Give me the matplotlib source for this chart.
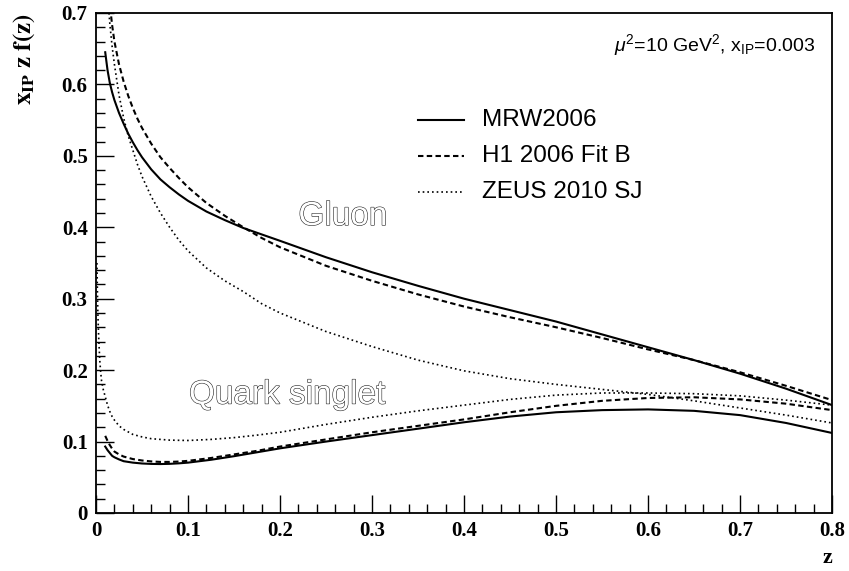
import numpy as np
import matplotlib
matplotlib.use("Agg")
from matplotlib import pyplot as plt
import matplotlib.patheffects as pe
from matplotlib.ticker import MultipleLocator

plt.rcParams['mathtext.fontset'] = 'custom'
plt.rcParams['mathtext.rm'] = 'Liberation Sans'
plt.rcParams['mathtext.it'] = 'Liberation Sans:italic'
plt.rcParams['mathtext.bf'] = 'Liberation Sans:bold'

# gluon curves
z_gluon = [0.01, 0.0125, 0.015, 0.0175, 0.02, 0.025, 0.03, 0.035, 0.04, 0.045, 0.05, 0.06, 0.07, 0.08, 0.09,
           0.1, 0.12, 0.14, 0.16, 0.18, 0.2, 0.25, 0.3, 0.35, 0.4, 0.45, 0.5, 0.55, 0.6, 0.65, 0.7, 0.75, 0.8]
gluon_mrw = [0.645, 0.620, 0.602, 0.589, 0.578, 0.560, 0.545, 0.531, 0.519, 0.508, 0.498, 0.481, 0.467, 0.456, 0.446,
             0.437, 0.422, 0.410, 0.399, 0.390, 0.381, 0.358, 0.337, 0.318, 0.300, 0.284, 0.268, 0.250, 0.232, 0.214,
             0.195, 0.174, 0.151]
gluon_h1 = [0.800, 0.750, 0.712, 0.683, 0.660, 0.628, 0.604, 0.584, 0.567, 0.552, 0.539, 0.517, 0.498, 0.483, 0.469,
            0.456, 0.434, 0.416, 0.400, 0.385, 0.372, 0.346, 0.325, 0.306, 0.289, 0.274, 0.260, 0.245, 0.229, 0.214,
            0.197, 0.178, 0.158]
gluon_zeus = [0.790, 0.727, 0.685, 0.653, 0.628, 0.585, 0.553, 0.528, 0.508, 0.488, 0.471, 0.443, 0.420, 0.400, 0.382,
              0.367, 0.343, 0.325, 0.310, 0.293, 0.280, 0.254, 0.233, 0.214, 0.199, 0.188, 0.180, 0.173, 0.166, 0.157,
              0.147, 0.137, 0.126]

# quark singlet curves
z_quark = [0.01, 0.0125, 0.015, 0.0175, 0.02, 0.025, 0.03, 0.04, 0.05, 0.06, 0.07, 0.08, 0.09, 0.1, 0.125, 0.15,
           0.175, 0.2, 0.25, 0.3, 0.35, 0.4, 0.45, 0.5, 0.55, 0.6, 0.65, 0.7, 0.75, 0.8]
quark_mrw = [0.093, 0.088, 0.084, 0.080, 0.078, 0.075, 0.0725, 0.0705, 0.0693, 0.0687, 0.0685, 0.0688, 0.0695, 0.0705,
             0.0745, 0.0795, 0.085, 0.0905, 0.100, 0.109, 0.118, 0.127, 0.135, 0.141, 0.144, 0.145, 0.143, 0.137,
             0.126, 0.112]
quark_h1 = [0.108, 0.101, 0.095, 0.090, 0.086, 0.082, 0.079, 0.0755, 0.0735, 0.0722, 0.0715, 0.0715, 0.072, 0.073,
            0.077, 0.082, 0.087, 0.093, 0.103, 0.113, 0.122, 0.131, 0.141, 0.150, 0.157, 0.161, 0.162, 0.159, 0.153,
            0.144]
z_quark_zeus = [0.001, 0.0015, 0.002, 0.0025, 0.003, 0.004, 0.005, 0.006, 0.008, 0.01, 0.0125, 0.015, 0.0175, 0.02,
                0.025, 0.03, 0.04, 0.05, 0.06, 0.08, 0.1, 0.125, 0.15, 0.175, 0.2, 0.25, 0.3, 0.35, 0.4, 0.45, 0.5,
                0.55, 0.6, 0.65, 0.7, 0.75, 0.8]
quark_zeus = [0.35, 0.31, 0.28, 0.26, 0.243, 0.215, 0.198, 0.185, 0.172, 0.163, 0.151, 0.142, 0.135, 0.130, 0.122,
              0.117, 0.110, 0.1065, 0.104, 0.102, 0.1015, 0.103, 0.1055, 0.109, 0.113, 0.124, 0.134, 0.143, 0.151,
              0.159, 0.165, 0.168, 0.168, 0.167, 0.164, 0.158, 0.151]

labels = ['MRW2006', 'H1 2006 Fit B', 'ZEUS 2010 SJ']

solid = dict(color='black', lw=1.5, ls='-')
dashed = dict(color='black', lw=1.5, dashes=(2.6, 1.6))
dotted = dict(color='black', lw=1.2, dashes=(1.0, 1.8))

fig = plt.figure(figsize=(8.49, 5.71), dpi=100)
ax = fig.add_axes([0.1131, 0.1016, 0.867, 0.8757])

ax.plot(z_gluon, gluon_mrw, **solid)
ax.plot(z_gluon, gluon_h1, **dashed)
ax.plot(z_gluon, gluon_zeus, **dotted)
ax.plot(z_quark, quark_mrw, **solid)
ax.plot(z_quark, quark_h1, **dashed)
ax.plot(z_quark_zeus, quark_zeus, **dotted)

ax.set_xlim(0, 0.8)
ax.set_ylim(0, 0.7)
ax.xaxis.set_major_locator(MultipleLocator(0.1))
ax.xaxis.set_minor_locator(MultipleLocator(0.02))
ax.yaxis.set_major_locator(MultipleLocator(0.1))
ax.yaxis.set_minor_locator(MultipleLocator(0.02))
ax.tick_params(which='both', direction='in', top=False, right=False, width=1.0)
ax.tick_params(which='major', length=13)
ax.tick_params(which='minor', length=6.5)
fmt = plt.FuncFormatter(lambda v, p: '0' if abs(v) < 1e-9 else f'{v:.1f}')
ax.xaxis.set_major_formatter(fmt)
ax.yaxis.set_major_formatter(fmt)
for lab in ax.get_xticklabels() + ax.get_yticklabels():
    lab.set_family('Liberation Serif')
    lab.set_fontweight('bold')
    lab.set_fontsize(15)
ax.tick_params(axis='x', pad=6)
ax.tick_params(axis='y', pad=6)
for sp in ax.spines.values():
    sp.set_linewidth(1.3)

ax.text(-0.097, 1.0, r'$\mathbf{x_{IP}\ z\ f(z)}$', transform=ax.transAxes,
        rotation=90, ha='center', va='top', fontsize=18, math_fontfamily='stix')
ax.text(1.0, -0.09, 'z', transform=ax.transAxes, ha='right', va='center',
        fontsize=16, fontweight='bold', family='Liberation Serif')

ax.text(0.563, 0.655, r'$\mu^2$=10 GeV$^2$, x$_{\rm IP}$=0.003', fontsize=14,
        family='Liberation Sans', math_fontfamily='custom', ha='left', va='center')

# legend drawn by hand in data coords
leg_y = [0.55, 0.50, 0.45]
styles = [solid, dashed, dotted]
for yy, st, lab in zip(leg_y, styles, labels):
    ax.plot([0.350, 0.400], [yy, yy], **st)
    ax.text(0.420, yy, lab, fontsize=17.5, family='Liberation Sans', va='center', ha='left')

outline = [pe.withStroke(linewidth=0.8, foreground='#222222')]
ax.text(0.220, 0.415, 'Gluon', fontsize=24, family='Liberation Sans', color='white',
        va='center', ha='left', path_effects=outline)
ax.text(0.101, 0.165, 'Quark singlet', fontsize=24, family='Liberation Sans', color='white',
        va='center', ha='left', path_effects=outline)

fig.savefig('out.png', dpi=100)
